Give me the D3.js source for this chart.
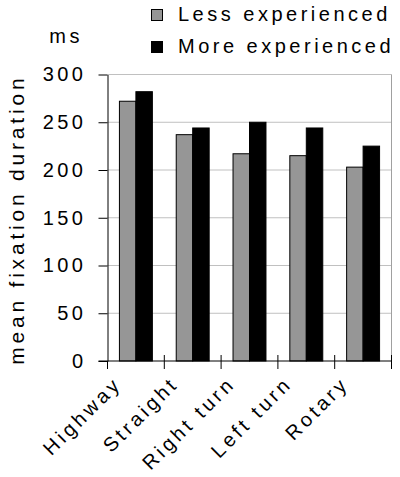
<!DOCTYPE html>
<html>
<head>
<meta charset="utf-8">
<script src="https://cdn.jsdelivr.net/npm/d3@7"></script>
<style>
  body { margin: 0; background: #fff; }
  text { font-family: "Liberation Sans", Arial, sans-serif; font-size: 20px; letter-spacing: 3.5px; fill: #000; }
</style>
</head>
<body>
<div id="chart"></div>
<script>
// values
const categories = ["Highway", "Straight", "Right turn", "Left turn", "Rotary"];
const seriesNames = ["Less experienced", "More experienced"];
const lessExperienced = [272, 237, 217, 215, 203];
const moreExperienced = [282, 244, 250, 244, 225];
const yTicks = [0, 50, 100, 150, 200, 250, 300];
const colors = ["#969696", "#000000"];

const width = 400, height = 477;
const margin = {left: 107.5, right: 8.5, top: 74.5, bottom: 116};

const svg = d3.select("#chart").append("svg")
    .attr("width", width)
    .attr("height", height);

const x = d3.scaleBand()
    .domain(categories)
    .range([margin.left, width - margin.right])
    .paddingInner(0.42)
    .paddingOuter(0.21);
const xs = d3.scaleBand()
    .domain(seriesNames)
    .range([0, x.bandwidth()]);
const y = d3.scaleLinear()
    .domain([0, 300])
    .range([height - margin.bottom, margin.top]);

const plotRight = width - margin.right;
const plotBottom = height - margin.bottom;

// grid
svg.append("g")
    .selectAll("line")
    .data(yTicks.slice(1))
    .enter()
    .append("line")
    .attr("x1", margin.left)
    .attr("x2", plotRight)
    .attr("y1", d => y(d))
    .attr("y2", d => y(d))
    .attr("stroke", "#c0c0c0")
    .attr("stroke-width", 1);
// right border
svg.append("line")
    .attr("x1", plotRight).attr("x2", plotRight)
    .attr("y1", margin.top).attr("y2", plotBottom)
    .attr("stroke", "#a0a0a0");

// bars
const series = [lessExperienced, moreExperienced];
series.forEach(function(vals, si) {
    svg.append("g")
        .selectAll("rect")
        .data(vals)
        .enter()
        .append("rect")
        .attr("x", (d, i) => x(categories[i]) + xs(seriesNames[si]))
        .attr("y", d => y(d))
        .attr("width", xs.bandwidth())
        .attr("height", d => y(0) - y(d))
        .attr("fill", colors[si])
        .attr("stroke", "#000")
        .attr("stroke-width", 1);
});

// y axis
const yAxis = svg.append("g")
    .attr("transform", "translate(" + margin.left + ",0)")
    .call(d3.axisLeft(y).tickValues(yTicks).tickSize(9).tickSizeOuter(0).tickPadding(12));
yAxis.select(".domain").attr("stroke", "#000");
yAxis.selectAll("text")
    .style("font-size", "20px")
    .style("font-family", "'Liberation Sans', Arial, sans-serif")
    .style("letter-spacing", "3.5px");

// x axis baseline and boundary ticks
svg.append("line")
    .attr("x1", margin.left - 9).attr("x2", plotRight)
    .attr("y1", plotBottom).attr("y2", plotBottom)
    .attr("stroke", "#000");
const step = x.step();
const bounds = categories.map(c => x(c) - step * x.paddingInner() / 2).concat([plotRight]);
svg.append("g")
    .selectAll("line")
    .data(bounds)
    .enter()
    .append("line")
    .attr("x1", d => d).attr("x2", d => d)
    .attr("y1", (d, i) => i == 0 ? plotBottom : plotBottom - 6)
    .attr("y2", plotBottom + 8)
    .attr("stroke", "#000");

// category labels, rotated
svg.append("g")
    .selectAll("text")
    .data(categories)
    .enter()
    .append("text")
    .attr("transform", d => "translate(" + (x(d) + x.bandwidth() / 2 - 13) + "," + (plotBottom + 24) + ") rotate(-45)")
    .attr("text-anchor", "end")
    .text(d => d);

// y title
svg.append("text")
    .attr("transform", "translate(24," + ((margin.top + plotBottom) / 2 + 2) + ") rotate(-90)")
    .attr("text-anchor", "middle")
    .style("font-size", "21px")
    .style("letter-spacing", "3.8px")
    .text("mean fixation duration");

svg.append("text")
    .attr("x", 83)
    .attr("y", 43)
    .attr("text-anchor", "end")
    .text("ms");

// legend
const legend = svg.append("g")
    .selectAll("g")
    .data(seriesNames)
    .enter()
    .append("g")
    .attr("transform", (d, i) => "translate(151," + (21 + i * 32) + ")");
legend.append("rect")
    .attr("x", 0.5)
    .attr("y", -11.5)
    .attr("width", 11)
    .attr("height", 11)
    .attr("fill", (d, i) => colors[i])
    .attr("stroke", "#000");
legend.append("text")
    .attr("x", 27)
    .attr("y", 0)
    .text(d => d);
</script>
</body>
</html>
